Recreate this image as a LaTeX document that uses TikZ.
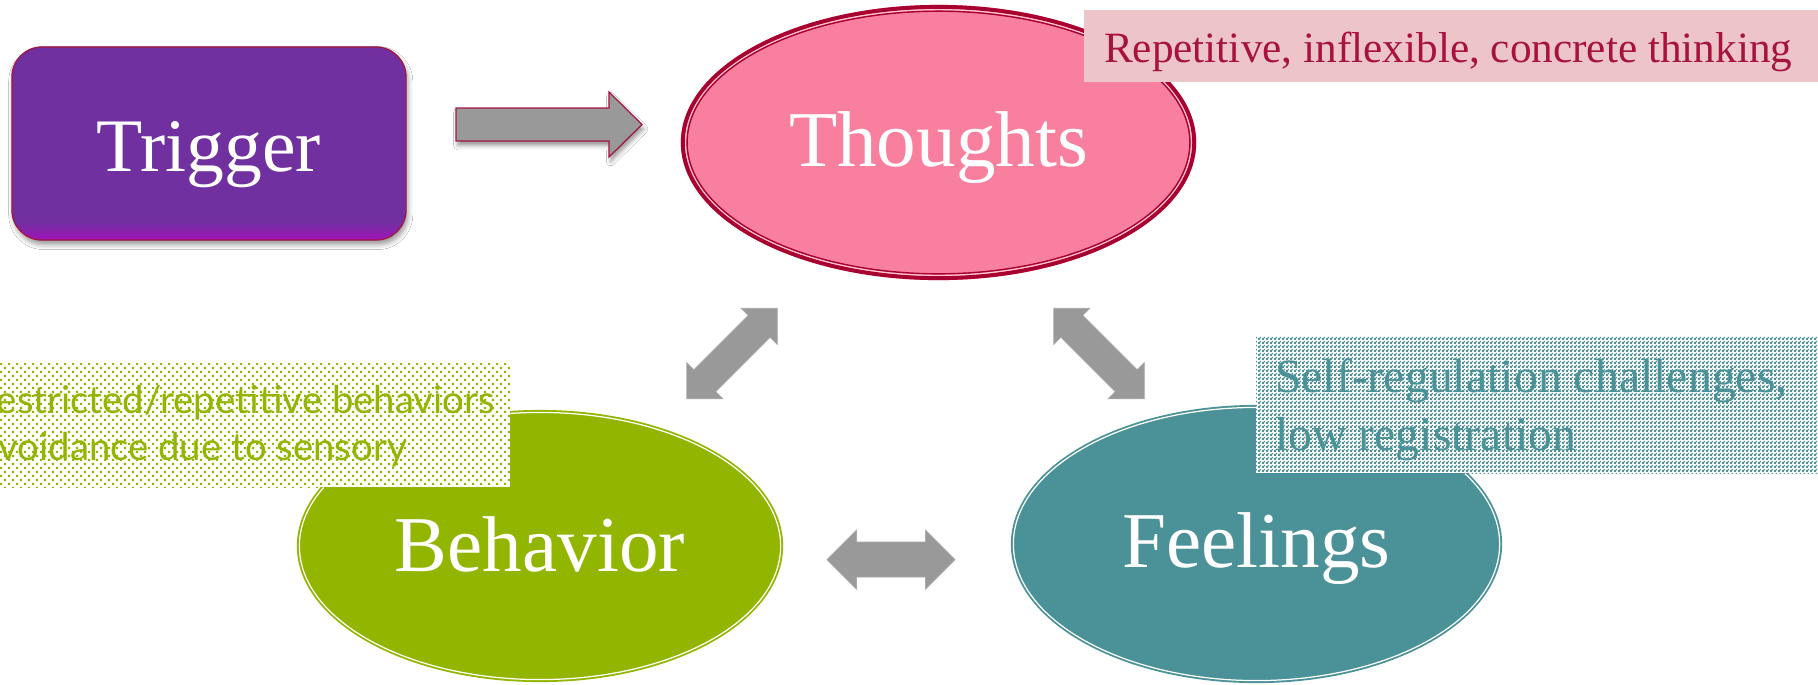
\documentclass[tikz,border=0pt]{standalone}
\usepackage{fontspec}
\setmainfont{Liberation Serif}
\newfontfamily\labelsans{Lato}
\usetikzlibrary{shapes.geometric, patterns.meta, shadows.blur, calc}

\definecolor{trigpurple}{HTML}{7030A0}
\definecolor{trigmag}{HTML}{A212B8}
\definecolor{edgered}{HTML}{A3163F}
\definecolor{arrowgray}{HTML}{999999}
\definecolor{thoughtpink}{HTML}{F97F9E}
\definecolor{thoughtred}{HTML}{A8002F}
\definecolor{pinkpaper}{HTML}{EDC5C9}
\definecolor{pinkink}{HTML}{A8123F}
\definecolor{behgreen}{HTML}{92B600}
\definecolor{feelteal}{HTML}{4A9198}

% fine checkerboard tile (about 2px squares)
\tikzdeclarepattern{
  name=finecheck,
  type=uncolored,
  bottom left={(0pt,0pt)},
  top right={(1.14pt,1.14pt)},
  tile size={(1.14pt,1.14pt)},
  code={
    \fill (0pt,0pt) rectangle (0.66pt,0.66pt);
    \fill (0.57pt,0.57pt) rectangle (1.14pt,1.14pt);
  }
}
% sparse staggered dots
\tikzdeclarepattern{
  name=sparsedots,
  type=uncolored,
  bottom left={(0pt,0pt)},
  top right={(2.27pt,2.27pt)},
  tile size={(2.27pt,2.27pt)},
  code={
    \fill (0pt,0pt) rectangle (0.6pt,0.6pt);
    \fill (1.135pt,1.135pt) rectangle (1.735pt,1.735pt);
  }
}

\tikzset{
  bigserif/.style={font=\fontsize{22.5}{27}\selectfont, text=white, inner sep=0pt, outer sep=0pt},
  triggerbox/.style={bigserif, font=\fontsize{21.5}{26}\selectfont, rectangle,
    rounded corners=0.3cm, fill=trigpurple, minimum width=3.94cm, minimum height=1.93cm,
    text height=16.2pt, text depth=0pt,
    blur shadow={shadow xshift=0.5pt, shadow yshift=-1.3pt, shadow blur radius=1.4pt, shadow opacity=40}},
  oval/.style={bigserif, ellipse, text depth=0pt},
  graybody/.style={fill=arrowgray, draw=arrowgray!85!white, line width=0.2pt, line join=miter},
  pics/dblarrow/.style n args={4}{code={
    \path[graybody] (-#1,0) -- (-#1+#2,-#3) -- (-#1+#2,-#4) -- (#1-#2,-#4) -- (#1-#2,-#3)
      -- (#1,0) -- (#1-#2,#3) -- (#1-#2,#4) -- (-#1+#2,#4) -- (-#1+#2,#3) -- cycle;
  }},
  notetext/.style={anchor=base west, inner sep=0pt, outer sep=0pt},
  sansnote/.style={text=behgreen, font=\labelsans\fontsize{10.9}{14}\selectfont},
}

\begin{document}
\begin{tikzpicture}[x=0.01cm, y=-0.01cm]
\useasboundingbox (0,0) rectangle (1818,684);
\clip (0,0) rectangle (1818,684);
\fill[white] (0,0) rectangle (1818,684);

% ---- Trigger ----
\node[triggerbox] (trigger) at (209,143.5) {Trigger};
\begin{scope}
  \clip[rounded corners=0.3cm] (trigger.south west) rectangle (trigger.north east);
  \shade[top color=trigpurple, bottom color=trigmag]
    ($(trigger.south west)+(0,-18)$) rectangle (trigger.south east);
\end{scope}
\draw[edgered, line width=0.35pt, rounded corners=0.3cm]
  (trigger.south west) rectangle (trigger.north east);

% ---- arrow Trigger -> Thoughts ----
\coordinate (arrtail) at (456,124.5);
\begin{scope}[shift={(arrtail)}]
  \path[fill=arrowgray, draw=edgered, line width=0.35pt, line join=miter,
    blur shadow={shadow xshift=0.5pt, shadow yshift=-1.3pt, shadow blur radius=1.2pt, shadow opacity=40}]
    (0,-16.5) -- (153,-16.5) -- (153,-32.5) -- (186,0) -- (153,32.5) -- (153,16.5) -- (0,16.5) -- cycle;
\end{scope}

% ---- Thoughts ----
\node[oval, fill=thoughtpink, minimum width=5.15cm, minimum height=2.75cm, text height=13.9pt]
  (thoughts) at (938.5,142.5) {Thoughts};
\draw[thoughtred, line width=1.15pt] (thoughts.center) ellipse [x radius=2.555cm, y radius=1.355cm];
\draw[thoughtpink!45!white, line width=0.35pt] (thoughts.center) ellipse [x radius=2.5275cm, y radius=1.3275cm];
\draw[thoughtred, line width=0.4pt] (thoughts.center) ellipse [x radius=2.5125cm, y radius=1.3125cm];

\fill[pinkpaper] (1084,10) rectangle (1830,82);
\node[notetext, text=pinkink, font=\fontsize{12.3}{14}\selectfont] (thinking) at (1104,62)
  {Repetitive, inflexible, concrete thinking};

% ---- two-way arrows ----
\coordinate (tb) at (732,353.5);
\coordinate (tf) at (1099,353.5);
\coordinate (bf) at (891,559.5);
\pic[rotate=45] at (tb) {dblarrow={64}{25.5}{25.5}{15.5}};
\pic[rotate=-45] at (tf) {dblarrow={64}{25.5}{25.5}{15.5}};
\pic at (bf) {dblarrow={64}{29.5}{29.5}{17.5}};

% ---- Behavior ----
\node[oval, fill=behgreen, minimum width=4.86cm, minimum height=2.72cm, text height=14.7pt]
  (behavior) at (540,546) {Behavior};
\draw[white, line width=0.35pt] (behavior.center) ellipse [x radius=2.405cm, y radius=1.335cm];

\fill[white] (-80,363) rectangle (510,487);
\fill[pattern=sparsedots, pattern color=behgreen] (-80,363) rectangle (510,487);
\node[notetext, sansnote] (restrict) at (-26,413)
  {Restricted/repetitive behaviors};
\node[notetext, sansnote] (avoid)
  at ($(restrict.base west)+(0,47)$) {Avoidance due to sensory};

% ---- Feelings ----
\node[oval, fill=feelteal, minimum width=4.91cm, minimum height=2.78cm, text height=13.6pt]
  (feelings) at (1256.5,544) {Feelings};
\draw[white, line width=0.35pt] (feelings.center) ellipse [x radius=2.43cm, y radius=1.365cm];

\fill[white] (1256,336) rectangle (1830,473);
\fill[pattern=finecheck, pattern color=feelteal] (1256,336) rectangle (1830,473);
\node[notetext, text=feelteal, font=\fontsize{13.6}{16}\selectfont] (selfreg) at (1275,392)
  {Self-regulation challenges,};
\node[notetext, text=feelteal, font=\fontsize{13.6}{16}\selectfont] (lowreg) at (1275,450)
  {low registration};
\end{tikzpicture}
\end{document}
